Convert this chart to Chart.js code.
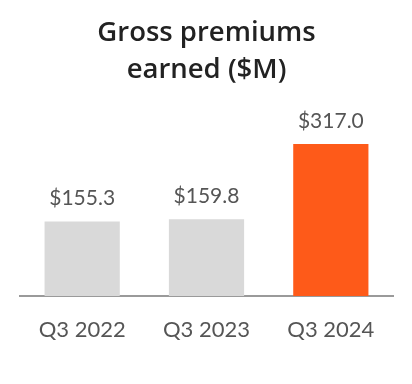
<!DOCTYPE html>
<html>
<head>
<meta charset="utf-8">
<script src="https://cdn.jsdelivr.net/npm/chart.js@4/dist/chart.umd.min.js"></script>
<style>
html,body{margin:0;padding:0;background:#fff;}
#wrap{width:412px;height:384px;position:relative;}
</style>
</head>
<body>
<div id="wrap"><canvas id="c" width="412" height="384"></canvas></div>
<script>
const categories = ['Q3 2022', 'Q3 2023', 'Q3 2024'];
const premiums = [155.3, 159.8, 317.0];
const barColors = ['#d9d9d9', '#d9d9d9', '#fe5a19'];
const titleLines = ['Gross premiums', 'earned ($M)'];

const FONT = 'Lato, "Open Sans", sans-serif';
const TITLE_FONT = '"Open Sans", Lato, sans-serif';

const valueLabels = {
  id: 'valueLabels',
  afterDatasetsDraw(chart) {
    const ctx = chart.ctx;
    const meta = chart.getDatasetMeta(0);
    ctx.save();
    ctx.font = '21px ' + FONT;
    ctx.fillStyle = '#555555';
    ctx.textAlign = 'center';
    ctx.textBaseline = 'middle';
    meta.data.forEach((bar, i) => {
      const v = chart.data.datasets[0].data[i];
      ctx.fillText('$' + v.toFixed(1), bar.x, bar.y - 23);
    });
    ctx.restore();
  }
};

new Chart(document.getElementById('c'), {
  type: 'bar',
  data: {
    labels: categories,
    datasets: [{
      data: premiums,
      backgroundColor: barColors,
      borderWidth: 0,
      categoryPercentage: 1,
      barPercentage: 0.605
    }]
  },
  options: {
    responsive: false,
    animation: false,
    devicePixelRatio: 1,
    layout: { padding: { left: 20, right: 19, top: 0, bottom: 19.6 } },
    plugins: {
      legend: { display: false },
      tooltip: { enabled: false },
      title: {
        display: true,
        text: titleLines,
        color: '#222222',
        font: { family: TITLE_FONT, size: 27.5, weight: '600', lineHeight: 1.35 },
        padding: { top: 14.5, bottom: 11 }
      }
    },
    scales: {
      x: {
        grid: { display: false, drawTicks: false },
        border: { display: true, color: '#9a9a9a', width: 2 },
        ticks: { color: '#555555', font: { family: FONT, size: 22 }, padding: 21 }
      },
      y: {
        display: false,
        min: 0,
        max: 409,
        grid: { display: false }
      }
    }
  },
  plugins: [valueLabels]
});
</script>
</body>
</html>
